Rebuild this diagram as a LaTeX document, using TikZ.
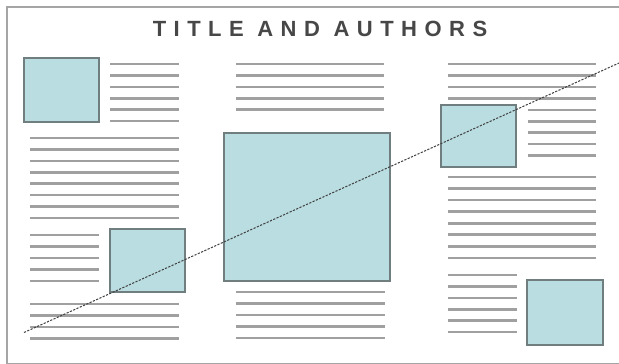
\documentclass[tikz,border=0pt]{standalone}
\usepackage{fontspec}
\setmainfont{Liberation Sans}
\definecolor{figfill}{RGB}{186,221,225}
\definecolor{figedge}{RGB}{112,126,128}
\definecolor{txtline}{RGB}{160,160,160}
\definecolor{frameline}{RGB}{165,165,165}

\begin{document}
\begin{tikzpicture}[x=1pt,y=-1pt,
	txt/.style={draw=txtline, line width=2.6pt},
	fig/.style={fill=figfill, draw=figedge, line width=1.5pt},
	]
	\useasboundingbox (0,0) rectangle (619,364);
	\fill[white] (0,0) rectangle (619,364);
	% page frame
	\draw[frameline, line width=1.3pt] (7,7) rectangle (630,363.5);
	\node[text=black!72, font=\fontsize{22}{24}\selectfont\bfseries\addfontfeature{LetterSpace=34}] (title) at (320,29) {TITLE AND AUTHORS};
	% left column
	\filldraw[fig] (24,58) rectangle (99,122);
	\foreach \i in {0,...,5}
	\draw[txt] (110,64+11.4*\i) -- (179,64+11.4*\i);
	\foreach \i in {0,...,7}
	\draw[txt] (30,138+11.4*\i) -- (179,138+11.4*\i);
	\foreach \i in {0,...,4}
	\draw[txt] (30,235+11.5*\i) -- (99,235+11.5*\i);
	\filldraw[fig] (110,229) rectangle (185,292);
	\foreach \i in {0,...,3}
	\draw[txt] (30,304+11.4*\i) -- (179,304+11.4*\i);
	% middle column
	\foreach \i in {0,...,4}
	\draw[txt] (236,64+11.4*\i) -- (384,64+11.4*\i);
	\filldraw[fig] (224,133) rectangle (390,281);
	\foreach \i in {0,...,4}
	\draw[txt] (236,292+11.5*\i) -- (385,292+11.5*\i);
	% right column
	\foreach \i in {0,...,3}
	\draw[txt] (448,64+11.4*\i) -- (596,64+11.4*\i);
	\filldraw[fig] (441,105) rectangle (516,167);
	\foreach \i in {0,...,4}
	\draw[txt] (528,110+11.3*\i) -- (596,110+11.3*\i);
	\foreach \i in {0,...,7}
	\draw[txt] (448,177+11.55*\i) -- (596,177+11.55*\i);
	\foreach \i in {0,...,5}
	\draw[txt] (448,275+11.4*\i) -- (517,275+11.4*\i);
	\filldraw[fig] (527,280) rectangle (603,345);
	% diagonal
	\coordinate (diagA) at (24,332.5);
	\coordinate (diagB) at (619,63);
	\draw[black!75, line width=1pt, dash pattern=on 2.2pt off 1.4pt] (diagA) -- (diagB);
\end{tikzpicture}
\end{document}
